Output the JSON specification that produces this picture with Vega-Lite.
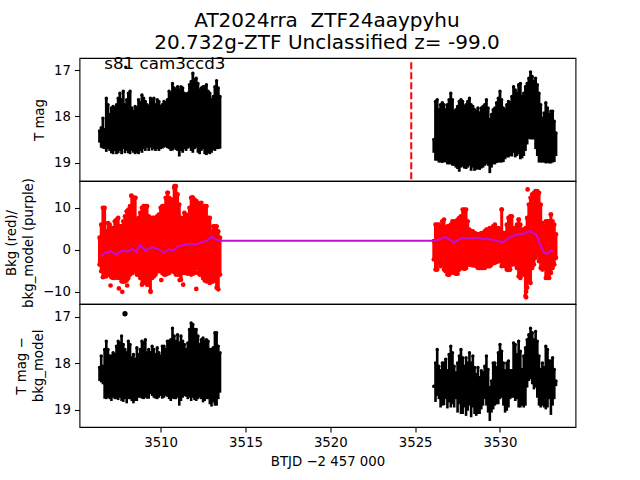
{"$schema":"https://vega.github.io/schema/vega-lite/v6.json","padding":{"left":3.5,"top":10,"right":5,"bottom":5},"background":"white","spacing":0,"bounds":"flush","title":{"text":["AT2024rra \u00a0ZTF24aaypyhu","20.732g-ZTF Unclassified z= -99.0"],"fontSize":20,"font":"DejaVu Sans","fontWeight":"normal","anchor":"middle","lineHeight":22,"offset":3,"dx":37,"color":"black"},"config":{"view":{"stroke":"black","strokeWidth":1.1},"font":"DejaVu Sans","axis":{"grid":false,"domain":false,"tickColor":"black","tickWidth":1.1,"labelColor":"black","titleColor":"black","labelFont":"DejaVu Sans","titleFont":"DejaVu Sans","labelFontSize":13.3,"titleFontSize":13.3,"titleFontWeight":"normal","tickSize":5,"labelPadding":4,"titleLineHeight":17}},"datasets":{"mag":[{"t":3506.4,"hi":18.32,"lo":18.57},{"t":3506.5,"hi":18.25,"lo":18.68},{"t":3506.6,"hi":18.04,"lo":18.7},{"t":3506.7,"hi":18.29,"lo":18.71},{"t":3506.8,"hi":17.61,"lo":18.77},{"t":3506.9,"hi":17.75,"lo":18.71},{"t":3507.0,"hi":17.96,"lo":18.75},{"t":3507.1,"hi":17.82,"lo":18.8},{"t":3507.2,"hi":17.79,"lo":18.82},{"t":3507.3,"hi":17.82,"lo":18.75},{"t":3507.4,"hi":17.75,"lo":18.82},{"t":3507.5,"hi":17.61,"lo":18.8},{"t":3507.6,"hi":17.5,"lo":18.75},{"t":3507.7,"hi":17.64,"lo":18.82},{"t":3507.8,"hi":17.46,"lo":18.71},{"t":3507.9,"hi":17.75,"lo":18.8},{"t":3508.0,"hi":17.64,"lo":18.75},{"t":3508.1,"hi":17.5,"lo":18.8},{"t":3508.2,"hi":17.46,"lo":18.82},{"t":3508.3,"hi":17.82,"lo":18.75},{"t":3508.4,"hi":17.89,"lo":18.79},{"t":3508.5,"hi":17.79,"lo":18.82},{"t":3508.6,"hi":17.82,"lo":18.79},{"t":3508.7,"hi":17.64,"lo":18.82},{"t":3508.8,"hi":17.71,"lo":18.75},{"t":3508.9,"hi":17.54,"lo":18.79},{"t":3509.0,"hi":17.61,"lo":18.71},{"t":3509.1,"hi":17.68,"lo":18.75},{"t":3509.2,"hi":17.75,"lo":18.68},{"t":3509.3,"hi":17.79,"lo":18.75},{"t":3509.4,"hi":17.61,"lo":18.68},{"t":3509.5,"hi":17.64,"lo":18.74},{"t":3509.6,"hi":17.61,"lo":18.71},{"t":3509.7,"hi":17.75,"lo":18.75},{"t":3509.8,"hi":17.64,"lo":18.71},{"t":3509.9,"hi":17.68,"lo":18.75},{"t":3510.0,"hi":17.79,"lo":18.71},{"t":3510.1,"hi":17.75,"lo":18.7},{"t":3510.2,"hi":17.68,"lo":18.68},{"t":3510.3,"hi":17.71,"lo":18.66},{"t":3510.4,"hi":17.64,"lo":18.69},{"t":3510.5,"hi":17.46,"lo":18.71},{"t":3510.6,"hi":17.5,"lo":18.75},{"t":3510.7,"hi":17.29,"lo":18.74},{"t":3510.8,"hi":17.39,"lo":18.7},{"t":3510.9,"hi":17.43,"lo":18.73},{"t":3511.0,"hi":17.36,"lo":18.75},{"t":3511.1,"hi":17.43,"lo":18.87},{"t":3511.2,"hi":17.36,"lo":18.75},{"t":3511.3,"hi":17.39,"lo":18.79},{"t":3511.4,"hi":17.5,"lo":18.71},{"t":3511.5,"hi":17.54,"lo":18.75},{"t":3511.6,"hi":17.5,"lo":18.7},{"t":3511.7,"hi":17.32,"lo":18.68},{"t":3511.8,"hi":17.25,"lo":18.75},{"t":3511.9,"hi":17.07,"lo":18.79},{"t":3512.0,"hi":17.21,"lo":18.71},{"t":3512.1,"hi":17.18,"lo":18.68},{"t":3512.2,"hi":17.29,"lo":18.79},{"t":3512.3,"hi":17.43,"lo":18.82},{"t":3512.4,"hi":17.39,"lo":18.75},{"t":3512.5,"hi":17.36,"lo":18.71},{"t":3512.6,"hi":17.36,"lo":18.82},{"t":3512.7,"hi":17.32,"lo":18.84},{"t":3512.8,"hi":17.46,"lo":18.8},{"t":3512.9,"hi":17.5,"lo":18.82},{"t":3513.0,"hi":17.64,"lo":18.79},{"t":3513.1,"hi":17.57,"lo":18.73},{"t":3513.2,"hi":17.36,"lo":18.75},{"t":3513.3,"hi":17.23,"lo":18.71},{"t":3513.4,"hi":17.39,"lo":18.71},{"t":3513.5,"hi":17.57,"lo":18.7},{"t":3526.1,"hi":18.5,"lo":18.79},{"t":3526.2,"hi":17.68,"lo":18.96},{"t":3526.3,"hi":17.64,"lo":18.96},{"t":3526.4,"hi":17.86,"lo":19.0},{"t":3526.5,"hi":17.75,"lo":19.0},{"t":3526.6,"hi":17.71,"lo":19.01},{"t":3526.7,"hi":17.75,"lo":18.99},{"t":3526.8,"hi":17.86,"lo":19.0},{"t":3526.9,"hi":17.75,"lo":19.04},{"t":3527.0,"hi":17.64,"lo":19.04},{"t":3527.1,"hi":17.5,"lo":19.04},{"t":3527.2,"hi":17.64,"lo":19.07},{"t":3527.3,"hi":17.89,"lo":19.07},{"t":3527.4,"hi":17.86,"lo":19.11},{"t":3527.5,"hi":17.79,"lo":19.14},{"t":3527.6,"hi":17.68,"lo":19.2},{"t":3527.7,"hi":17.64,"lo":19.11},{"t":3527.8,"hi":17.68,"lo":19.09},{"t":3527.9,"hi":17.79,"lo":19.13},{"t":3528.0,"hi":17.75,"lo":19.14},{"t":3528.1,"hi":17.68,"lo":19.11},{"t":3528.2,"hi":17.61,"lo":19.07},{"t":3528.3,"hi":17.75,"lo":19.18},{"t":3528.4,"hi":17.79,"lo":19.11},{"t":3528.5,"hi":17.86,"lo":19.18},{"t":3528.6,"hi":17.89,"lo":19.16},{"t":3528.7,"hi":17.82,"lo":19.14},{"t":3528.8,"hi":17.93,"lo":19.16},{"t":3528.9,"hi":17.82,"lo":19.13},{"t":3529.0,"hi":17.79,"lo":19.11},{"t":3529.1,"hi":17.75,"lo":19.07},{"t":3529.2,"hi":17.64,"lo":19.04},{"t":3529.3,"hi":17.82,"lo":19.07},{"t":3529.4,"hi":18.07,"lo":19.23},{"t":3529.5,"hi":17.96,"lo":19.11},{"t":3529.6,"hi":17.86,"lo":19.04},{"t":3529.7,"hi":17.82,"lo":19.04},{"t":3529.8,"hi":17.71,"lo":19.01},{"t":3529.9,"hi":17.61,"lo":19.0},{"t":3530.0,"hi":17.46,"lo":19.0},{"t":3530.1,"hi":17.64,"lo":19.0},{"t":3530.2,"hi":17.82,"lo":18.99},{"t":3530.3,"hi":17.86,"lo":18.93},{"t":3530.4,"hi":17.75,"lo":18.89},{"t":3530.5,"hi":17.68,"lo":18.89},{"t":3530.6,"hi":17.71,"lo":18.86},{"t":3530.7,"hi":17.57,"lo":18.87},{"t":3530.8,"hi":17.36,"lo":18.79},{"t":3530.9,"hi":17.43,"lo":18.89},{"t":3531.0,"hi":17.5,"lo":18.86},{"t":3531.1,"hi":17.32,"lo":18.82},{"t":3531.2,"hi":17.29,"lo":18.93},{"t":3531.3,"hi":17.57,"lo":18.91},{"t":3531.4,"hi":17.5,"lo":18.86},{"t":3531.5,"hi":17.36,"lo":18.75},{"t":3531.6,"hi":17.29,"lo":18.61},{"t":3531.7,"hi":17.18,"lo":18.49},{"t":3531.8,"hi":17.04,"lo":18.5},{"t":3531.9,"hi":17.14,"lo":18.5},{"t":3532.0,"hi":17.25,"lo":18.5},{"t":3532.1,"hi":17.18,"lo":18.71},{"t":3532.2,"hi":17.32,"lo":18.86},{"t":3532.3,"hi":17.5,"lo":19.0},{"t":3532.4,"hi":17.75,"lo":19.0},{"t":3532.5,"hi":18.04,"lo":19.0},{"t":3532.6,"hi":17.93,"lo":19.0},{"t":3532.7,"hi":17.71,"lo":19.02},{"t":3532.8,"hi":17.82,"lo":19.01},{"t":3532.9,"hi":17.96,"lo":19.02},{"t":3533.0,"hi":17.89,"lo":19.02},{"t":3533.1,"hi":17.89,"lo":19.0},{"t":3533.2,"hi":18.11,"lo":18.99},{"t":3533.3,"hi":18.36,"lo":18.86}],"sub":[{"t":3506.4,"hi":18.09,"lo":18.38},{"t":3506.5,"hi":17.84,"lo":18.41},{"t":3506.6,"hi":18.06,"lo":18.45},{"t":3506.7,"hi":17.7,"lo":18.76},{"t":3506.8,"hi":17.52,"lo":18.77},{"t":3506.9,"hi":17.7,"lo":18.74},{"t":3507.0,"hi":17.84,"lo":18.77},{"t":3507.1,"hi":17.84,"lo":18.81},{"t":3507.2,"hi":17.77,"lo":18.74},{"t":3507.3,"hi":17.81,"lo":18.77},{"t":3507.4,"hi":17.63,"lo":18.77},{"t":3507.5,"hi":17.52,"lo":18.79},{"t":3507.6,"hi":17.56,"lo":18.74},{"t":3507.7,"hi":17.41,"lo":18.81},{"t":3507.8,"hi":17.59,"lo":18.83},{"t":3507.9,"hi":17.7,"lo":18.77},{"t":3508.0,"hi":17.77,"lo":18.86},{"t":3508.1,"hi":17.52,"lo":18.77},{"t":3508.2,"hi":17.59,"lo":18.77},{"t":3508.3,"hi":17.88,"lo":18.81},{"t":3508.4,"hi":17.81,"lo":18.86},{"t":3508.5,"hi":17.91,"lo":18.81},{"t":3508.6,"hi":17.66,"lo":18.81},{"t":3508.7,"hi":17.81,"lo":18.74},{"t":3508.8,"hi":17.7,"lo":18.74},{"t":3508.9,"hi":17.52,"lo":18.76},{"t":3509.0,"hi":17.56,"lo":18.77},{"t":3509.1,"hi":17.49,"lo":18.74},{"t":3509.2,"hi":17.77,"lo":18.76},{"t":3509.3,"hi":17.7,"lo":18.76},{"t":3509.4,"hi":17.77,"lo":18.66},{"t":3509.5,"hi":17.63,"lo":18.7},{"t":3509.6,"hi":17.7,"lo":18.74},{"t":3509.7,"hi":17.81,"lo":18.76},{"t":3509.8,"hi":17.66,"lo":18.77},{"t":3509.9,"hi":17.77,"lo":18.74},{"t":3510.0,"hi":17.84,"lo":18.7},{"t":3510.1,"hi":17.63,"lo":18.76},{"t":3510.2,"hi":17.63,"lo":18.74},{"t":3510.3,"hi":17.7,"lo":18.7},{"t":3510.4,"hi":17.52,"lo":18.72},{"t":3510.5,"hi":17.52,"lo":18.77},{"t":3510.6,"hi":17.49,"lo":18.81},{"t":3510.7,"hi":17.24,"lo":18.76},{"t":3510.8,"hi":17.41,"lo":18.77},{"t":3510.9,"hi":17.52,"lo":18.77},{"t":3511.0,"hi":17.38,"lo":18.74},{"t":3511.1,"hi":17.56,"lo":18.91},{"t":3511.2,"hi":17.41,"lo":18.81},{"t":3511.3,"hi":17.52,"lo":18.74},{"t":3511.4,"hi":17.59,"lo":18.7},{"t":3511.5,"hi":17.7,"lo":18.72},{"t":3511.6,"hi":17.56,"lo":18.77},{"t":3511.7,"hi":17.27,"lo":18.74},{"t":3511.8,"hi":17.13,"lo":18.81},{"t":3511.9,"hi":17.16,"lo":18.74},{"t":3512.0,"hi":17.27,"lo":18.79},{"t":3512.1,"hi":17.27,"lo":18.81},{"t":3512.2,"hi":17.41,"lo":18.77},{"t":3512.3,"hi":17.59,"lo":18.74},{"t":3512.4,"hi":17.49,"lo":18.77},{"t":3512.5,"hi":17.45,"lo":18.84},{"t":3512.6,"hi":17.52,"lo":18.81},{"t":3512.7,"hi":17.49,"lo":18.77},{"t":3512.8,"hi":17.52,"lo":18.77},{"t":3512.9,"hi":17.7,"lo":18.88},{"t":3513.0,"hi":17.7,"lo":18.93},{"t":3513.1,"hi":17.66,"lo":18.84},{"t":3513.2,"hi":17.34,"lo":18.91},{"t":3513.3,"hi":17.34,"lo":18.91},{"t":3513.4,"hi":17.63,"lo":18.77},{"t":3513.5,"hi":17.77,"lo":18.63},{"t":3526.1,"hi":18.49,"lo":18.52},{"t":3526.2,"hi":17.99,"lo":18.83},{"t":3526.3,"hi":17.7,"lo":18.7},{"t":3526.4,"hi":18.06,"lo":18.77},{"t":3526.5,"hi":18.16,"lo":18.95},{"t":3526.6,"hi":17.99,"lo":18.91},{"t":3526.7,"hi":17.99,"lo":18.9},{"t":3526.8,"hi":17.91,"lo":18.77},{"t":3526.9,"hi":18.16,"lo":18.97},{"t":3527.0,"hi":17.81,"lo":18.84},{"t":3527.1,"hi":17.63,"lo":18.95},{"t":3527.2,"hi":17.77,"lo":18.88},{"t":3527.3,"hi":18.06,"lo":18.95},{"t":3527.4,"hi":18.2,"lo":18.77},{"t":3527.5,"hi":17.99,"lo":19.06},{"t":3527.6,"hi":17.84,"lo":18.88},{"t":3527.7,"hi":17.7,"lo":19.09},{"t":3527.8,"hi":17.88,"lo":19.09},{"t":3527.9,"hi":18.06,"lo":18.95},{"t":3528.0,"hi":17.88,"lo":19.13},{"t":3528.1,"hi":17.99,"lo":19.02},{"t":3528.2,"hi":17.77,"lo":18.91},{"t":3528.3,"hi":17.99,"lo":19.16},{"t":3528.4,"hi":17.84,"lo":18.95},{"t":3528.5,"hi":18.09,"lo":19.09},{"t":3528.6,"hi":18.24,"lo":19.13},{"t":3528.7,"hi":18.09,"lo":19.09},{"t":3528.8,"hi":18.31,"lo":19.09},{"t":3528.9,"hi":18.16,"lo":18.99},{"t":3529.0,"hi":18.2,"lo":18.91},{"t":3529.1,"hi":18.06,"lo":18.77},{"t":3529.2,"hi":17.84,"lo":18.91},{"t":3529.3,"hi":18.13,"lo":19.06},{"t":3529.4,"hi":18.52,"lo":19.24},{"t":3529.5,"hi":18.38,"lo":19.06},{"t":3529.6,"hi":17.99,"lo":18.99},{"t":3529.7,"hi":17.99,"lo":18.91},{"t":3529.8,"hi":18.09,"lo":18.88},{"t":3529.9,"hi":17.77,"lo":18.88},{"t":3530.0,"hi":17.59,"lo":18.77},{"t":3530.1,"hi":17.74,"lo":18.74},{"t":3530.2,"hi":17.99,"lo":18.91},{"t":3530.3,"hi":18.16,"lo":19.06},{"t":3530.4,"hi":17.99,"lo":19.02},{"t":3530.5,"hi":17.95,"lo":18.95},{"t":3530.6,"hi":18.16,"lo":18.77},{"t":3530.7,"hi":18.16,"lo":18.74},{"t":3530.8,"hi":17.56,"lo":18.74},{"t":3530.9,"hi":17.59,"lo":18.81},{"t":3531.0,"hi":17.81,"lo":18.77},{"t":3531.1,"hi":17.52,"lo":18.95},{"t":3531.2,"hi":17.74,"lo":18.95},{"t":3531.3,"hi":18.13,"lo":18.91},{"t":3531.4,"hi":17.84,"lo":18.95},{"t":3531.5,"hi":17.66,"lo":18.91},{"t":3531.6,"hi":17.49,"lo":18.52},{"t":3531.7,"hi":17.38,"lo":18.38},{"t":3531.8,"hi":17.24,"lo":18.34},{"t":3531.9,"hi":17.34,"lo":18.45},{"t":3532.0,"hi":17.49,"lo":18.56},{"t":3532.1,"hi":17.31,"lo":18.52},{"t":3532.2,"hi":17.52,"lo":18.74},{"t":3532.3,"hi":17.84,"lo":18.91},{"t":3532.4,"hi":18.13,"lo":18.95},{"t":3532.5,"hi":17.99,"lo":18.91},{"t":3532.6,"hi":18.09,"lo":18.95},{"t":3532.7,"hi":17.63,"lo":18.99},{"t":3532.8,"hi":17.7,"lo":18.95},{"t":3532.9,"hi":17.95,"lo":18.77},{"t":3533.0,"hi":17.95,"lo":19.11},{"t":3533.1,"hi":17.88,"lo":18.91},{"t":3533.2,"hi":18.13,"lo":18.77},{"t":3533.3,"hi":18.38,"lo":18.49}],"bkg":[{"t":3506.4,"hi":2.9,"lo":-3.5},{"t":3506.5,"hi":6,"lo":-5.1},{"t":3506.6,"hi":10,"lo":-6.5},{"t":3506.7,"hi":10,"lo":-6.3},{"t":3506.8,"hi":4.4,"lo":-6.3},{"t":3506.9,"hi":6.4,"lo":-5.9},{"t":3507.0,"hi":6,"lo":-5.9},{"t":3507.1,"hi":5.2,"lo":-6.5},{"t":3507.2,"hi":5.2,"lo":-6.7},{"t":3507.3,"hi":6.8,"lo":-6.7},{"t":3507.4,"hi":7.2,"lo":-5.9},{"t":3507.5,"hi":7.6,"lo":-6.7},{"t":3507.6,"hi":5.6,"lo":-6.7},{"t":3507.7,"hi":5.6,"lo":-7.5},{"t":3507.8,"hi":6.8,"lo":-7.6},{"t":3507.9,"hi":8,"lo":-7.5},{"t":3508.0,"hi":9.2,"lo":-7.3},{"t":3508.1,"hi":9.6,"lo":-6.7},{"t":3508.2,"hi":10.4,"lo":-5.9},{"t":3508.3,"hi":12.8,"lo":-5.5},{"t":3508.4,"hi":12.4,"lo":-5.1},{"t":3508.5,"hi":12.4,"lo":-5.1},{"t":3508.6,"hi":7.2,"lo":-5.9},{"t":3508.7,"hi":7.6,"lo":-5.9},{"t":3508.8,"hi":8.8,"lo":-6.7},{"t":3508.9,"hi":10,"lo":-8.3},{"t":3509.0,"hi":10.4,"lo":-7.9},{"t":3509.1,"hi":10.4,"lo":-7.5},{"t":3509.2,"hi":10.4,"lo":-8.3},{"t":3509.3,"hi":8,"lo":-8.3},{"t":3509.4,"hi":7.2,"lo":-9.8},{"t":3509.5,"hi":7.6,"lo":-6.7},{"t":3509.6,"hi":7.6,"lo":-6.3},{"t":3509.7,"hi":7.6,"lo":-5.9},{"t":3509.8,"hi":8,"lo":-5.1},{"t":3509.9,"hi":8.4,"lo":-5.1},{"t":3510.0,"hi":10,"lo":-4.7},{"t":3510.1,"hi":10.4,"lo":-5.5},{"t":3510.2,"hi":10.4,"lo":-5.9},{"t":3510.3,"hi":12.4,"lo":-5.9},{"t":3510.4,"hi":13.6,"lo":-5.7},{"t":3510.5,"hi":12.4,"lo":-5.5},{"t":3510.6,"hi":12,"lo":-5.1},{"t":3510.7,"hi":12,"lo":-5.1},{"t":3510.8,"hi":14.8,"lo":-5.3},{"t":3510.9,"hi":15.2,"lo":-5.9},{"t":3511.0,"hi":13.2,"lo":-5.9},{"t":3511.1,"hi":10.8,"lo":-5.9},{"t":3511.2,"hi":7.6,"lo":-7.1},{"t":3511.3,"hi":7.2,"lo":-5.5},{"t":3511.4,"hi":8.8,"lo":-5.5},{"t":3511.5,"hi":8.4,"lo":-5.5},{"t":3511.6,"hi":7.6,"lo":-5.7},{"t":3511.7,"hi":10,"lo":-5.5},{"t":3511.8,"hi":12.4,"lo":-5.9},{"t":3511.9,"hi":12.4,"lo":-5.7},{"t":3512.0,"hi":12,"lo":-5.5},{"t":3512.1,"hi":11.6,"lo":-4.3},{"t":3512.2,"hi":11.2,"lo":-5.5},{"t":3512.3,"hi":10.8,"lo":-5.9},{"t":3512.4,"hi":11.2,"lo":-5.9},{"t":3512.5,"hi":10,"lo":-6.7},{"t":3512.6,"hi":10.4,"lo":-7.3},{"t":3512.7,"hi":10.4,"lo":-7.5},{"t":3512.8,"hi":7.6,"lo":-7.5},{"t":3512.9,"hi":7.6,"lo":-7.9},{"t":3513.0,"hi":4.4,"lo":-7.6},{"t":3513.1,"hi":5.6,"lo":-7.5},{"t":3513.2,"hi":5.6,"lo":-7.3},{"t":3513.3,"hi":5.6,"lo":-9},{"t":3513.4,"hi":4.4,"lo":-9.4},{"t":3513.5,"hi":2.9,"lo":-5.9},{"t":3526.1,"hi":2.1,"lo":-2.3},{"t":3526.2,"hi":6,"lo":-4.7},{"t":3526.3,"hi":6,"lo":-4.7},{"t":3526.4,"hi":6,"lo":-3.1},{"t":3526.5,"hi":5.6,"lo":-3.9},{"t":3526.6,"hi":6.8,"lo":-3.5},{"t":3526.7,"hi":7.2,"lo":-4.7},{"t":3526.8,"hi":5.2,"lo":-5.1},{"t":3526.9,"hi":5.6,"lo":-5.9},{"t":3527.0,"hi":5.6,"lo":-5.9},{"t":3527.1,"hi":6,"lo":-5.5},{"t":3527.2,"hi":6.8,"lo":-4.7},{"t":3527.3,"hi":6.8,"lo":-5.5},{"t":3527.4,"hi":6.4,"lo":-5.7},{"t":3527.5,"hi":7.2,"lo":-5.7},{"t":3527.6,"hi":7.6,"lo":-4.7},{"t":3527.7,"hi":8,"lo":-4.3},{"t":3527.8,"hi":9.6,"lo":-4.3},{"t":3527.9,"hi":9.6,"lo":-4.5},{"t":3528.0,"hi":9.6,"lo":-4.3},{"t":3528.1,"hi":6.8,"lo":-3.5},{"t":3528.2,"hi":4.8,"lo":-3.5},{"t":3528.3,"hi":4.4,"lo":-3.5},{"t":3528.4,"hi":4.4,"lo":-3.7},{"t":3528.5,"hi":4,"lo":-3.5},{"t":3528.6,"hi":3.8,"lo":-3.9},{"t":3528.7,"hi":3.7,"lo":-4.3},{"t":3528.8,"hi":3.7,"lo":-4.3},{"t":3528.9,"hi":4,"lo":-4.3},{"t":3529.0,"hi":4,"lo":-4.3},{"t":3529.1,"hi":4.4,"lo":-4.3},{"t":3529.2,"hi":4.8,"lo":-3.9},{"t":3529.3,"hi":4.8,"lo":-3.9},{"t":3529.4,"hi":5.2,"lo":-3.9},{"t":3529.5,"hi":4.8,"lo":-3.5},{"t":3529.6,"hi":5.6,"lo":-3.1},{"t":3529.7,"hi":6,"lo":-3.1},{"t":3529.8,"hi":5.2,"lo":-2.9},{"t":3529.9,"hi":5.2,"lo":-2.7},{"t":3530.0,"hi":4.8,"lo":-2.7},{"t":3530.1,"hi":9.6,"lo":-3.9},{"t":3530.2,"hi":4,"lo":-3.5},{"t":3530.3,"hi":4,"lo":-3.9},{"t":3530.4,"hi":6,"lo":-4.7},{"t":3530.5,"hi":7.6,"lo":-4.8},{"t":3530.6,"hi":8,"lo":-4.7},{"t":3530.7,"hi":8,"lo":-3.5},{"t":3530.8,"hi":5.2,"lo":-3.1},{"t":3530.9,"hi":5.2,"lo":-3.5},{"t":3531.0,"hi":6,"lo":-4.3},{"t":3531.1,"hi":7.2,"lo":-6.3},{"t":3531.2,"hi":6,"lo":-6.7},{"t":3531.3,"hi":4.8,"lo":-5.1},{"t":3531.4,"hi":4.4,"lo":-5.9},{"t":3531.5,"hi":5.2,"lo":-11},{"t":3531.6,"hi":7.6,"lo":-9},{"t":3531.7,"hi":10.8,"lo":-7.5},{"t":3531.8,"hi":12.4,"lo":-7.9},{"t":3531.9,"hi":13.2,"lo":-4.3},{"t":3532.0,"hi":13.6,"lo":-3.5},{"t":3532.1,"hi":14,"lo":-1.9},{"t":3532.2,"hi":14,"lo":-1.1},{"t":3532.3,"hi":13.6,"lo":-2.7},{"t":3532.4,"hi":10.8,"lo":-4.3},{"t":3532.5,"hi":6.4,"lo":-4.7},{"t":3532.6,"hi":5.6,"lo":-4.3},{"t":3532.7,"hi":6.8,"lo":-6.7},{"t":3532.8,"hi":6.8,"lo":-6.7},{"t":3532.9,"hi":6.8,"lo":-6.7},{"t":3533.0,"hi":8.4,"lo":-5.5},{"t":3533.1,"hi":6.8,"lo":-4.3},{"t":3533.2,"hi":6,"lo":-3.5},{"t":3533.3,"hi":3.7,"lo":-1.9}],"bkgOut":[{"t":3507.05,"v":-8.5},{"t":3507.54,"v":-9.2},{"t":3507.74,"v":-10},{"t":3508.03,"v":-8.5},{"t":3508.33,"v":-5.5},{"t":3509.41,"v":-10},{"t":3510.04,"v":-7.2},{"t":3511.12,"v":-7.2},{"t":3511.33,"v":-8.3},{"t":3512.1,"v":-9.3},{"t":3508.27,"v":12.9},{"t":3508.52,"v":12.4},{"t":3510.43,"v":13.6},{"t":3510.82,"v":15.2},{"t":3511.87,"v":12.5},{"t":3531.63,"v":14.4},{"t":3530.1,"v":9.6},{"t":3533.0,"v":8.4},{"t":3531.1,"v":7.2},{"t":3527.0,"v":-5.9},{"t":3527.45,"v":-5.6},{"t":3527.92,"v":-4.5},{"t":3530.55,"v":-4.7},{"t":3531.2,"v":-6.4},{"t":3531.54,"v":-11.3},{"t":3531.54,"v":-10}],"model":[{"t":3506.5,"v":-1.5},{"t":3506.6,"v":-1.1},{"t":3506.75,"v":-0.7},{"t":3507.05,"v":-0.3},{"t":3507.4,"v":-1.1},{"t":3507.75,"v":-0.15},{"t":3508.05,"v":-0.5},{"t":3508.35,"v":0.3},{"t":3508.55,"v":-0.5},{"t":3508.8,"v":1.1},{"t":3509.1,"v":-0.15},{"t":3509.5,"v":0.65},{"t":3509.9,"v":0.1},{"t":3510.2,"v":-0.7},{"t":3510.5,"v":0.1},{"t":3510.75,"v":-0.15},{"t":3511.1,"v":1.0},{"t":3511.6,"v":1.3},{"t":3511.8,"v":1.4},{"t":3512.1,"v":1.3},{"t":3512.4,"v":1.8},{"t":3512.75,"v":2.2},{"t":3513.0,"v":3.1},{"t":3513.25,"v":2.45},{"t":3513.55,"v":2.15},{"t":3526.2,"v":2.2},{"t":3526.4,"v":2.45},{"t":3526.8,"v":3.1},{"t":3527.3,"v":1.7},{"t":3527.5,"v":2.3},{"t":3527.8,"v":2.85},{"t":3528.2,"v":2.7},{"t":3528.8,"v":2.85},{"t":3529.05,"v":2.45},{"t":3529.25,"v":2.7},{"t":3529.65,"v":2.3},{"t":3530.15,"v":1.8},{"t":3530.55,"v":2.85},{"t":3530.95,"v":3.65},{"t":3531.35,"v":3.8},{"t":3531.75,"v":4.45},{"t":3532.15,"v":3.65},{"t":3532.35,"v":1.3},{"t":3532.6,"v":-0.7},{"t":3532.8,"v":-0.95},{"t":3533.1,"v":0.1}]},"vconcat":[{"width":496,"height":123,"layer":[{"data":{"name":"mag"},"mark":{"type":"rule","color":"black","strokeWidth":2.8},"encoding":{"x":{"field":"t","type":"quantitative","scale":{"domain":[3505.22,3534.45],"nice":false,"zero":false},"axis":null},"y":{"field":"hi","type":"quantitative","scale":{"domain":[16.74,19.4],"reverse":true,"nice":false,"zero":false},"axis":{"values":[17,18,19],"format":"d","title":"T mag","titlePadding":7}},"y2":{"field":"lo"}}},{"data":{"name":"mag"},"mark":{"type":"circle","color":"black","size":12,"opacity":1},"encoding":{"x":{"field":"t","type":"quantitative"},"y":{"field":"hi","type":"quantitative"}}},{"data":{"values":[{"t":3507.95,"v":16.94}]},"mark":{"type":"circle","color":"black","size":12,"opacity":1},"encoding":{"x":{"field":"t","type":"quantitative"},"y":{"field":"v","type":"quantitative"}}},{"data":{"values":[{"t":3524.77,"a":16.83,"b":19.4}]},"mark":{"type":"rule","color":"#ff0000","strokeWidth":2,"strokeDash":[7,3]},"encoding":{"x":{"field":"t","type":"quantitative"},"y":{"field":"a","type":"quantitative"},"y2":{"field":"b"}}},{"data":{"values":[{"t":3506.68,"v":16.88,"label":"s81 cam3ccd3"}]},"mark":{"type":"text","align":"left","baseline":"middle","fontSize":16.7,"font":"DejaVu Sans","color":"black","clip":false},"encoding":{"x":{"field":"t","type":"quantitative"},"y":{"field":"v","type":"quantitative"},"text":{"field":"label"}}}]},{"width":496,"height":123,"layer":[{"data":{"name":"bkg"},"mark":{"type":"rule","color":"#ff0000","strokeWidth":3},"encoding":{"x":{"field":"t","type":"quantitative","scale":{"domain":[3505.22,3534.45],"nice":false,"zero":false},"axis":null},"y":{"field":"hi","type":"quantitative","scale":{"domain":[-12.9,16.4],"nice":false,"zero":false},"axis":{"values":[-10,0,10],"format":"d","title":["Bkg (red)/","bkg_model (purple)"],"titlePadding":7}},"y2":{"field":"lo"}}},{"data":{"name":"bkg"},"mark":{"type":"circle","color":"#ff0000","size":22,"opacity":1},"encoding":{"x":{"field":"t","type":"quantitative"},"y":{"field":"hi","type":"quantitative"}}},{"data":{"name":"bkg"},"mark":{"type":"circle","color":"#ff0000","size":22,"opacity":1},"encoding":{"x":{"field":"t","type":"quantitative"},"y":{"field":"lo","type":"quantitative"}}},{"data":{"name":"bkgOut"},"mark":{"type":"circle","color":"#ff0000","size":22,"opacity":1},"encoding":{"x":{"field":"t","type":"quantitative"},"y":{"field":"v","type":"quantitative"}}},{"data":{"name":"model"},"mark":{"type":"line","color":"#bf10d0","strokeWidth":2.1,"interpolate":"linear"},"encoding":{"x":{"field":"t","type":"quantitative"},"y":{"field":"v","type":"quantitative"}}}]},{"width":496,"height":123,"layer":[{"data":{"name":"sub"},"mark":{"type":"rule","color":"black","strokeWidth":2.6},"encoding":{"x":{"field":"t","type":"quantitative","scale":{"domain":[3505.22,3534.45],"nice":false,"zero":false},"axis":{"values":[3510,3515,3520,3525,3530],"format":"d","title":"BTJD −2 457 000","labelPadding":3,"titlePadding":6}},"y":{"field":"hi","type":"quantitative","scale":{"domain":[16.72,19.37],"reverse":true,"nice":false,"zero":false},"axis":{"values":[17,18,19],"format":"d","title":["T mag −","bkg_model"],"titlePadding":8}},"y2":{"field":"lo"}}},{"data":{"name":"sub"},"mark":{"type":"circle","color":"black","size":12,"opacity":1},"encoding":{"x":{"field":"t","type":"quantitative"},"y":{"field":"hi","type":"quantitative"}}},{"data":{"values":[{"t":3507.9,"v":16.93}]},"mark":{"type":"circle","color":"black","size":28,"opacity":1},"encoding":{"x":{"field":"t","type":"quantitative"},"y":{"field":"v","type":"quantitative"}}}]}]}
